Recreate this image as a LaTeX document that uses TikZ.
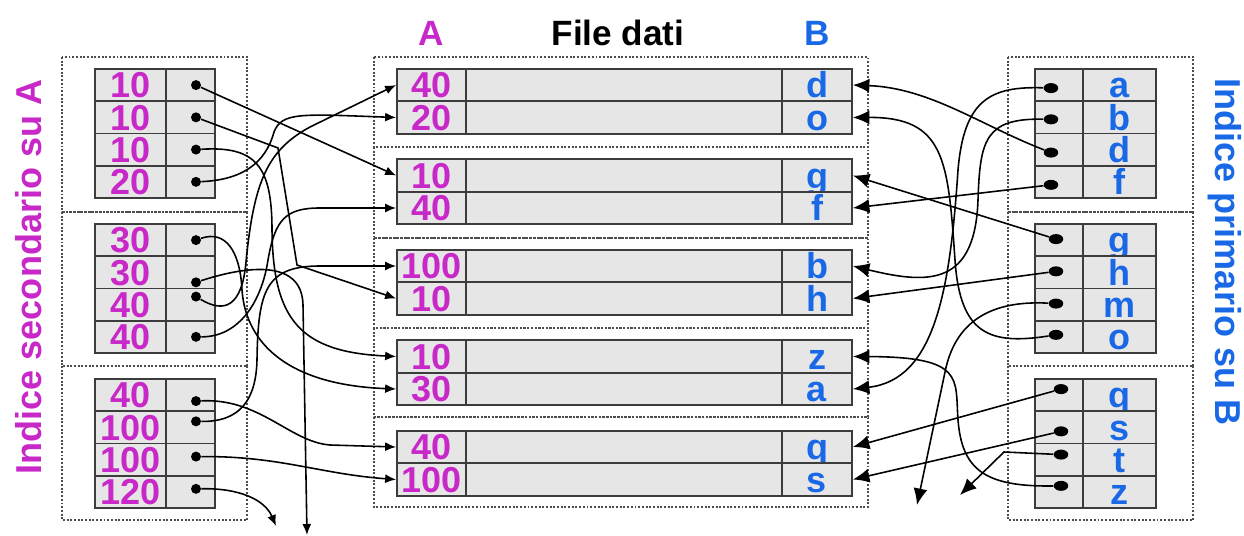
\documentclass[tikz,border=0pt]{standalone}
\usepackage{fontspec}
\setmainfont{Liberation Sans}
\usetikzlibrary{arrows.meta, shapes.geometric}
\definecolor{magA}{RGB}{200,40,200}
\definecolor{blueB}{RGB}{25,105,230}
\definecolor{cellgray}{RGB}{230,230,230}
\definecolor{edgegray}{RGB}{60,60,60}
\newcommand{\cellfont}{\fontsize{20.5}{20.5}\selectfont\bfseries}
\newcommand{\headfont}{\fontsize{20}{20}\selectfont\bfseries}
\tikzset{
    cell/.style={rectangle, draw=edgegray, line width=1pt, fill=cellgray, inner sep=0pt, minimum height=0.645cm, text height=14.5pt, text depth=0pt, font=\cellfont},
    kcell/.style={cell, minimum width=1.42cm, text=magA},
    pcell/.style={cell, minimum width=0.98cm},
    rkcell/.style={cell, minimum width=1.46cm, text=blueB},
    rpcell/.style={cell, minimum width=0.96cm},
    acell/.style={cell, minimum width=1.38cm, minimum height=0.65cm, text=magA},
    mcell/.style={cell, minimum width=6.32cm, minimum height=0.65cm},
    bcell/.style={cell, minimum width=1.4cm, minimum height=0.65cm, text=blueB},
    ldot/.style={circle, fill=black, inner sep=0pt, minimum size=0.2cm},
    rdot/.style={ellipse, fill=black, inner sep=0pt, minimum width=0.29cm, minimum height=0.2cm},
    page/.style={draw=black!70, densely dotted, line width=1.1pt},
    link/.style={line width=0.9pt, -{Latex[length=2.2mm, width=1.8mm]}},
    rlink/.style={line width=0.9pt, -{Latex[length=3.3mm, width=2.8mm]}},
}

\begin{document}
\begin{tikzpicture}[x=0.02cm, y=-0.02cm]
    \useasboundingbox (0,0) rectangle (1244,536);

    % pages of the two indexes and of the data file
    \foreach \t/\b in {57/212, 212/366, 366/520} {
        \draw[page] (62,\t) rectangle (247,\b);
        \draw[page] (1008,\t) rectangle (1193,\b);
    }
    \foreach \t/\b in {57/147, 147/238, 238/328, 328/417, 417/507}
        \draw[page] (374,\t) rectangle (868,\b);

    % headings
    \node[font=\headfont, text=magA] (hA) at (431,33) {A};
    \node[font=\headfont] (hfile) at (618,33) {File dati};
    \node[font=\headfont, text=blueB] (hB) at (817,33) {B};
    \node[rotate=90, font=\fontsize{20.5}{20.5}\selectfont\bfseries, text=magA] (tsec) at (29,277) {Indice secondario su A};
    \node[rotate=-90, font=\fontsize{20.5}{20.5}\selectfont\bfseries, text=blueB] (tprim) at (1225,252) {Indice primario su B};

    % secondary index on A
    \foreach \v/\dy [count=\i from 0] in {10/0, 10/0, 10/0, 20/0, 30/0, 30/10, 40/-8, 40/0, 40/6, 100/-6, 100/-3, 120/-3} {
        \pgfmathtruncatemacro\blk{\i/4}
        \pgfmathtruncatemacro\row{\i-4*\blk}
        \pgfmathsetmacro\yc{85.1+155*\blk+32.25*\row}
        \node[kcell] (lk\i) at (130.5,\yc) {\v};
        \node[pcell] (lp\i) at (190.5,\yc) {};
        \node[ldot] (ld\i) at (196,\yc+\dy) {};
    }

    % data file
    \foreach \a/\b [count=\i] in {40/d, 20/o, 10/g, 40/f, 100/b, 10/h, 10/z, 30/a, 40/q, 100/s} {
        \pgfmathtruncatemacro\sec{(\i-1)/2}
        \pgfmathtruncatemacro\row{\i-1-2*\sec}
        \pgfmathsetmacro\yc{85+90.5*\sec+32.5*\row}
        \node[mcell] (m\i) at (624,\yc) {};
        \node[acell] (a\i) at (431.5,\yc) {\a};
        \node[bcell] (b\i) at (817,\yc) {\b};
    }

    % primary index on B
    \foreach \k/\dy [count=\i from 0] in {a/3, b/2, d/3, f/3, g/-1, h/-1, m/-1, o/-2, q/-6, s/4, t/-5, z/-6} {
        \pgfmathtruncatemacro\blk{\i/4}
        \pgfmathtruncatemacro\row{\i-4*\blk}
        \pgfmathsetmacro\yc{85.1+155*\blk+32.25*\row}
        \node[rpcell] (rp\i) at (1059,\yc) {};
        \node[rkcell] (rk\i) at (1119.5,\yc) {\k};
        \node[rdot] (rd\i) at (1051+5*\blk,\yc+\dy) {};
    }

    % pointers that leave the page
    \coordinate (offA1) at (307,535);
    \coordinate (offA2) at (276,526);
    \coordinate (offB1) at (917,505);
    \coordinate (offB2) at (960,495);

    % pointers of the secondary index
    \draw[link] (ld0) -- (a3.west);
    \draw[link] (ld1) -- (278,148) -- (297,265) -- (a6.west);
    \draw[link] (ld2) .. controls (255,146) and (272,165) .. (272,230)
        .. controls (273,320) and (300,352) .. (a7.west);
    \draw[link] (ld3) .. controls (240,180) and (265,165) .. (274,132)
        .. controls (282,112) and (300,114) .. (a2.west);
    \draw[link] (ld4) .. controls (225,230) and (240,250) .. (242,290)
        .. controls (246,345) and (290,385) .. (a8.west);
    \draw[link] (ld5) .. controls (240,268) and (302,256) .. (303,305) -- (offA1);
    \draw[link] (ld6) .. controls (225,314) and (242,306) .. (246,262)
        .. controls (254,180) and (268,150) .. (310,127) -- (a1.west);
    \draw[link] (ld7) .. controls (240,337) and (262,300) .. (268,260)
        .. controls (275,220) and (285,208) .. (320,208) -- (a4.west);
    \draw[link] (ld8) .. controls (260,398) and (290,442) .. (330,445) -- (a9.west);
    \draw[link] (ld9) .. controls (240,422) and (256,400) .. (257,360)
        .. controls (258,290) and (266,266) .. (320,266) -- (a5.west);
    \draw[link] (ld10) .. controls (280,456) and (320,474) .. (a10.west);
    \draw[link] (ld11) .. controls (240,488) and (265,500) .. (offA2);

    % pointers of the primary index
    \draw[rlink] (rd0) .. controls (990,86) and (964,100) .. (958,170)
        .. controls (950,290) and (935,380) .. (b8.east);
    \draw[rlink] (rd1) .. controls (985,118) and (980,140) .. (978,200)
        .. controls (975,285) and (930,285) .. (b5.east);
    \draw[rlink] (rd2) .. controls (980,125) and (930,88) .. (b1.east);
    \draw[rlink] (rd3) -- (b4.east);
    \draw[rlink] (rd4) -- (b3.east);
    \draw[rlink] (rd5) -- (b6.east);
    \draw[rlink] (rd6) .. controls (990,300) and (955,322) .. (945,372) -- (offB1);
    \draw[rlink] (rd7) .. controls (990,345) and (960,335) .. (955,260)
        .. controls (948,160) and (945,117) .. (b2.east);
    \draw[rlink] (rd8) -- (b9.east);
    \draw[rlink] (rd9) -- (b10.east);
    \draw[rlink] (rd10) -- (1004,452) -- (offB2);
    \draw[rlink] (rd11) .. controls (985,487) and (962,470) .. (958,420)
        .. controls (955,378) and (965,357) .. (b7.east);
\end{tikzpicture}
\end{document}
